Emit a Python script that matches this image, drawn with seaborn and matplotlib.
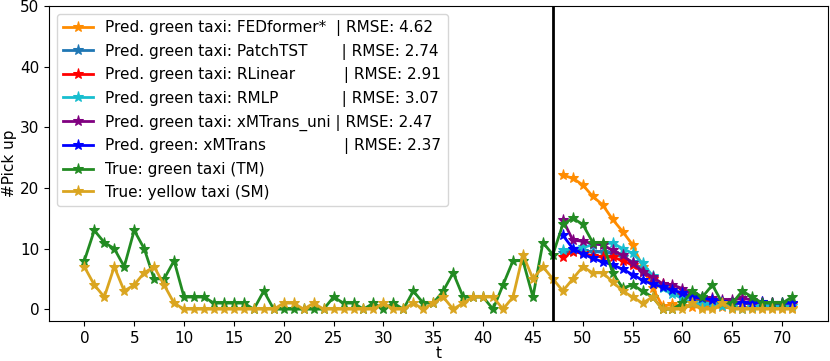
import numpy as np
import matplotlib
matplotlib.use('Agg')
import matplotlib.pyplot as plt
import seaborn as sns

# time steps
t_true = list(range(0, 72))
t_pred = list(range(48, 72))

# ground truth series
green_true = [8, 13, 11, 10, 7, 13, 10, 5, 5, 8,
              2, 2, 2, 1, 1, 1, 1, 0, 3, 0,
              0, 0, 0, 0, 0, 2, 1, 1, 0, 1,
              0, 1, 0, 3, 1, 1, 3, 6, 2, 2,
              2, 0, 4, 8, 8, 2, 11, 9,
              14, 15, 14, 11, 11, 6, 3.5, 4, 3, 2, 0, 0,
              1, 3, 2, 4, 1, 1, 3, 2, 1, 1, 1, 2]
yellow_true = [7, 4, 2, 7, 3, 4, 6, 7, 4, 1,
               0, 0, 0, 0, 0, 0, 0, 0, 0, 0,
               1, 1, 0, 1, 0, 0, 0, 0, 0, 0,
               1, 0, 0, 1, 0, 1, 2, 0, 1, 2,
               2, 2, 0, 2, 9, 5, 7, 5,
               3, 5, 7, 6, 6, 4.5, 3, 2, 1, 2, 0, 0,
               0, 1, 0, 0, 1, 0, 0, 0, 0, 0, 0, 0]

# model predictions (t = 48..71)
fedformer = [22.1, 21.6, 20.5, 18.6, 17.2, 14.8, 12.8, 10.6, 7.0, 3.5, 0.5, 0.8,
             0.5, 0.4, 0.3, 0.3, 0.3, 0.2, 0.2, 0.2, 0.2, 0.2, 0.2, 0.2]
patchtst = [9.3, 9.6, 9.6, 9.5, 9.4, 9.2, 8.6, 7.8, 6.5, 5.2, 4.0, 3.0,
            2.2, 1.7, 1.4, 1.2, 1.0, 0.9, 0.9, 0.9, 0.8, 0.8, 0.8, 0.8]
rlinear = [8.6, 9.5, 9.2, 8.8, 8.6, 8.6, 8.0, 7.3, 6.2, 5.0, 4.2, 3.2,
           2.5, 2.0, 1.6, 1.4, 1.2, 1.1, 1.0, 1.0, 1.0, 1.0, 0.9, 0.9]
rmlp = [9.7, 10.0, 10.2, 10.6, 10.8, 10.9, 10.0, 9.2, 7.6, 5.5, 3.5, 2.5,
        1.8, 1.0, 0.8, 0.8, 0.5, 0.3, 0.1, 0.3, 0.5, 0.5, 0.5, 0.5]
xmtrans_uni = [14.7, 11.4, 11.2, 10.8, 10.6, 9.7, 8.9, 7.6, 6.2, 5.3, 4.2, 4.0,
               3.4, 2.5, 2.0, 1.8, 1.5, 1.5, 1.8, 1.5, 1.2, 1.0, 1.0, 1.0]
xmtrans = [12.2, 10.0, 9.1, 8.4, 7.8, 7.3, 6.6, 5.7, 4.8, 4.1, 3.7, 3.1,
           2.7, 2.0, 1.8, 1.5, 1.2, 1.0, 1.0, 1.0, 1.2, 1.0, 1.0, 1.0]

preds = [
    ('Pred. green taxi: FEDformer*  | RMSE: 4.62', fedformer, 'darkorange'),
    ('Pred. green taxi: PatchTST       | RMSE: 2.74', patchtst, 'tab:blue'),
    ('Pred. green taxi: RLinear          | RMSE: 2.91', rlinear, 'red'),
    ('Pred. green taxi: RMLP             | RMSE: 3.07', rmlp, 'tab:cyan'),
    ('Pred. green taxi: xMTrans_uni | RMSE: 2.47', xmtrans_uni, 'purple'),
    ('Pred. green: xMTrans                | RMSE: 2.37', xmtrans, 'blue'),
]

plt.rcParams['font.size'] = 11
fig, ax = plt.subplots(figsize=(8.3, 3.61), dpi=100)

for label, vals, col in preds:
    sns.lineplot(x=t_pred, y=vals, color=col, marker='*', markersize=8,
                 markeredgecolor=col, linewidth=2, label=label, ax=ax)

sns.lineplot(x=t_true, y=green_true, color='forestgreen', marker='*', markersize=8,
             markeredgecolor='forestgreen', linewidth=2, label='True: green taxi (TM)', ax=ax)
sns.lineplot(x=t_true, y=yellow_true, color='goldenrod', marker='*', markersize=8,
             markeredgecolor='goldenrod', linewidth=2, label='True: yellow taxi (SM)', ax=ax)

ax.axvline(47, color='black', linewidth=2)

ax.set_ylim(-2, 50)
ax.set_xticks(range(0, 71, 5))
ax.set_xlabel('t', labelpad=0)
ax.set_ylabel('#Pick up', labelpad=2)
ax.legend(loc='upper left')

plt.subplots_adjust(left=0.059, right=0.997, top=0.983, bottom=0.11)
plt.savefig('out.png', dpi=100)
